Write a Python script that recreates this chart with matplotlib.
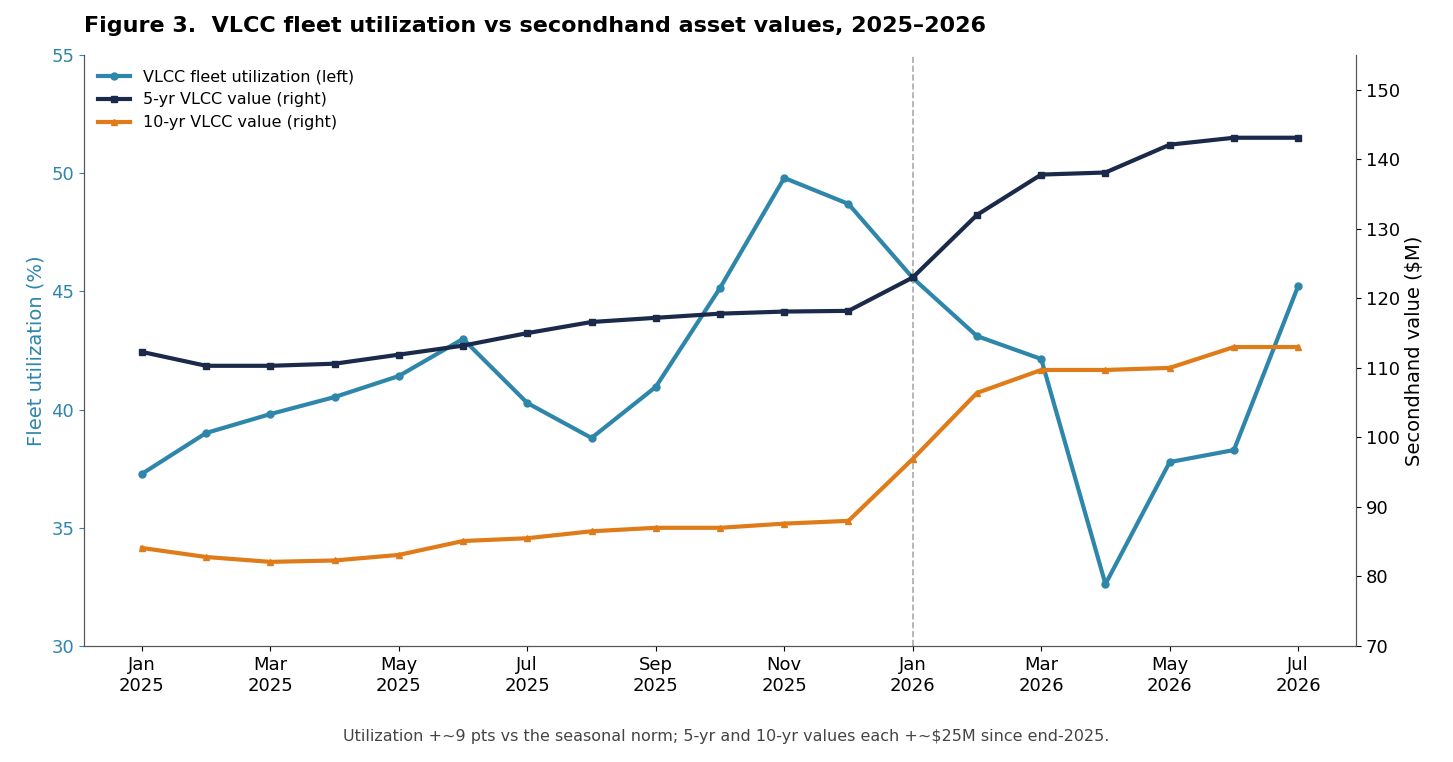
import matplotlib
matplotlib.use('Agg')
import matplotlib.pyplot as plt

months = ['Jan\n2025', 'Feb', 'Mar\n2025', 'Apr', 'May\n2025', 'Jun', 'Jul\n2025', 'Aug',
          'Sep\n2025', 'Oct', 'Nov\n2025', 'Dec', 'Jan\n2026', 'Feb', 'Mar\n2026', 'Apr',
          'May\n2026', 'Jun', 'Jul\n2026']
utilization = [37.28, 39.01, 39.81, 40.53, 41.42, 42.99, 40.28, 38.80, 40.96, 45.14,
               49.80, 48.70, 45.57, 43.11, 42.14, 32.62, 37.78, 38.29, 45.23]
value_5yr = [112.3, 110.3, 110.3, 110.6, 111.9, 113.2, 115.0, 116.6, 117.2, 117.8,
             118.1, 118.2, 123.0, 132.0, 137.8, 138.1, 142.1, 143.1, 143.1]
value_10yr = [84.1, 82.8, 82.1, 82.3, 83.1, 85.1, 85.5, 86.5, 87.0, 87.0,
              87.6, 88.0, 96.9, 106.4, 109.7, 109.7, 110.0, 113.0, 113.0]

x = list(range(len(months)))
fig = plt.figure(figsize=(14.53, 7.62), dpi=100)
ax = fig.add_axes([84/1453, 1-646/762, (1356-84)/1453, (646-55)/762])
ax2 = ax.twinx()

l1, = ax.plot(x, utilization, color='#2e86ab', lw=3, marker='o', ms=5, label='VLCC fleet utilization (left)')
l2, = ax2.plot(x, value_5yr, color='#1b2a4a', lw=3, marker='s', ms=5, label='5-yr VLCC value (right)')
l3, = ax2.plot(x, value_10yr, color='#e07b1a', lw=3, marker='^', ms=5, label='10-yr VLCC value (right)')
ax.axvline(12, color='#aaaaaa', ls='--', lw=1.2)

ax.set_ylim(30, 55)
ax2.set_ylim(70, 155)
ax.set_xlim(-0.9, 18.9)
ax.set_xticks(x[::2])
ax.set_xticklabels(months[::2], fontsize=13)
ax.set_yticks([30, 35, 40, 45, 50, 55])
ax.tick_params(axis='y', colors='#2e86ab', labelsize=13)
ax2.tick_params(axis='y', labelsize=13)
ax.set_ylabel('Fleet utilization (%)', color='#2e86ab', fontsize=14)
ax2.set_ylabel('Secondhand value ($M)', fontsize=14)
for a in (ax, ax2):
    a.spines['top'].set_visible(False)
    a.spines['left'].set_color('#555555')
    a.spines['right'].set_color('#555555')
    a.spines['bottom'].set_color('#555555')

ax.legend(handles=[l1, l2, l3], loc='upper left', frameon=False, fontsize=11.5)
fig.text(84/1453, 1-26/762, 'Figure 3.  VLCC fleet utilization vs secondhand asset values, 2025\u20132026',
         fontsize=16, fontweight='bold', va='center')
fig.text(0.5, 1-737/762, 'Utilization +~9 pts vs the seasonal norm; 5-yr and 10-yr values each +~$25M since end-2025.',
         fontsize=11.5, color='#444444', ha='center', va='center')
fig.savefig('out.png')
